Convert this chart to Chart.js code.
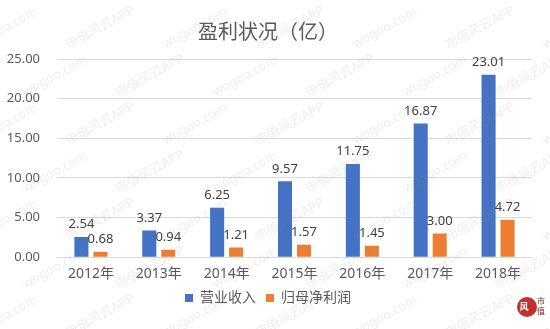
<!DOCTYPE html>
<html>
<head>
<meta charset="utf-8">
<script src="https://cdn.jsdelivr.net/npm/chart.js@4"></script>
<style>
	html, body { margin: 0; padding: 0; background: #fff; }
	#box { width: 550px; height: 329px; }
</style>
</head>
<body>
<div id="box"><canvas id="main-chart"></canvas></div>
<script>
// values in 亿
var years = ['2012年', '2013年', '2014年', '2015年', '2016年', '2017年', '2018年'];
var revenue = [2.54, 3.37, 6.25, 9.57, 11.75, 16.87, 23.01];
var netProfit = [0.68, 0.94, 1.21, 1.57, 1.45, 3.00, 4.72];
var yMin = 0, yMax = 25, yStep = 5;

var fontFamily = "'Noto Sans', 'Noto Sans CJK SC', sans-serif";
var grey = '#595959';

// number above every bar
var valueLabels = {
	id: 'valueLabels',
	afterDatasetsDraw(chart) {
		var ctx = chart.ctx;
		ctx.save();
		ctx.font = '13px ' + fontFamily;
		ctx.fillStyle = '#404040';
		ctx.textAlign = 'center';
		ctx.textBaseline = 'bottom';
		chart.data.datasets.forEach(function(ds, i) {
			chart.getDatasetMeta(i).data.forEach(function(bar, j) {
				ctx.fillText(ds.data[j].toFixed(2), bar.x, bar.y - 6);
			});
		});
		ctx.restore();
	}
};

// faint diagonal watermark + corner badge
var watermark = {
	id: 'watermark',
	afterDraw(chart) {
		var ctx = chart.ctx;
		ctx.save();
		ctx.font = '13px ' + fontFamily;
		ctx.fillStyle = 'rgba(150,150,150,0.17)';
		ctx.textAlign = 'center';
		ctx.textBaseline = 'middle';
		var words = ['wogoo.com', '市值风云APP'];
		var n = 0;
		for (var y = -20; y < 380; y += 48) {
			for (var x = -40; x < 620; x += 95) {
				ctx.save();
				ctx.translate(x + (n % 2) * 45, y);
				ctx.rotate(-0.5);
				ctx.fillText(words[(n + Math.floor(x / 95)) % 2 === 0 ? 0 : 1], 0, 0);
				ctx.restore();
			}
			n++;
		}
		ctx.fillStyle = '#c0332b';
		ctx.beginPath();
		ctx.arc(527, 307, 10, 0, Math.PI * 2);
		ctx.fill();
		ctx.fillStyle = '#fff';
		ctx.font = 'bold 9px ' + fontFamily;
		ctx.fillText('风', 524, 307);
		ctx.fillStyle = '#8a1c16';
		ctx.font = '8px ' + fontFamily;
		ctx.fillText('市', 541, 302);
		ctx.fillText('值', 541, 312);
		ctx.restore();
	}
};

var ctx = document.getElementById('main-chart');

var chart = new Chart(ctx, {
	type: 'bar',
	data: {
		labels: years,
		datasets: [{
			label: '营业收入',
			data: revenue,
			backgroundColor: '#4472C4'
		}, {
			label: '归母净利润',
			data: netProfit,
			backgroundColor: '#ED7D31'
		}]
	},
	options: {
		responsive: true,
		maintainAspectRatio: false,
		animation: false,
		categoryPercentage: 0.56,
		barPercentage: 0.74,
		layout: { padding: { left: 4, right: 18, top: 0, bottom: 14 } },
		plugins: {
			title: {
				display: true,
				text: '盈利状况（亿）',
				color: grey,
				font: { family: fontFamily, size: 20, weight: 'normal' },
				padding: { top: 21, bottom: 14 }
			},
			legend: {
				position: 'bottom',
				labels: {
					color: grey,
					font: { family: fontFamily, size: 14 },
					boxWidth: 8,
					boxHeight: 8,
					padding: 10
				}
			},
			tooltip: { enabled: false }
		},
		scales: {
			x: {
				grid: { display: false, drawTicks: false },
				border: { color: '#D9D9D9' },
				ticks: {
					color: grey,
					padding: 8,
					font: { family: fontFamily, size: 14 }
				},
				afterFit: function(scale) { scale.height -= 9; }
			},
			y: {
				min: yMin,
				max: yMax,
				grid: { color: '#D9D9D9', drawTicks: false },
				border: { display: false },
				ticks: {
					stepSize: yStep,
					color: grey,
					padding: 17,
					font: { family: fontFamily, size: 13 },
					callback: function(v) { return v.toFixed(2); }
				},
				afterFit: function(scale) { scale.width = 53; }
			}
		}
	},
	plugins: [valueLabels, watermark]
});
</script>
</body>
</html>
